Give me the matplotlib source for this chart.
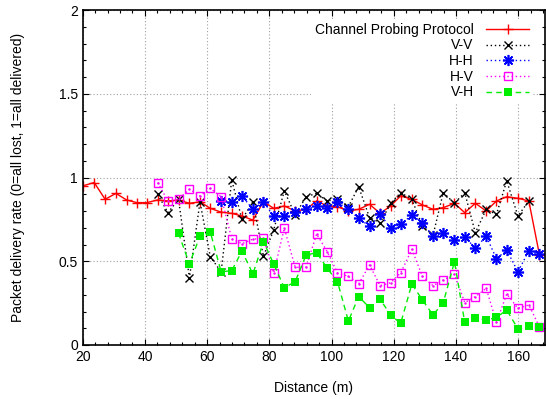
import numpy as np
import matplotlib
matplotlib.use('Agg')
import matplotlib.pyplot as plt
from matplotlib.ticker import MultipleLocator, FuncFormatter

plt.rcParams['font.family'] = ['Liberation Sans', 'DejaVu Sans']
plt.rcParams['font.size'] = 10

# distances (m) at which the samples were taken
distance = [20.0, 23.7, 27.2, 30.7, 34.1, 37.4, 40.6, 44.1, 47.4, 50.8,
            54.3, 57.7, 61.0, 64.5, 67.9, 71.2, 74.7, 78.1, 81.4, 84.8,
            88.3, 91.8, 95.2, 98.6, 101.9, 105.4, 108.7, 112.2, 115.6, 119.0,
            122.2, 125.8, 129.2, 132.6, 135.9, 139.5, 142.8, 146.2, 149.7, 153.0,
            156.3, 159.9, 163.4, 166.8]

cpp = [0.95, 0.97, 0.87, 0.905, 0.866, 0.85, 0.85, 0.866, 0.86, 0.866,
       0.846, 0.855, 0.816, 0.793, 0.786, 0.77, 0.746, 0.855, 0.816, 0.83,
       0.80, 0.81, 0.86, 0.83, 0.826, 0.80, 0.81, 0.84, 0.786, 0.83,
       0.89, 0.87, 0.836, 0.81, 0.82, 0.846, 0.79, 0.846, 0.80, 0.86,
       0.885, 0.876, 0.86, 0.54]

# V-V: 44.1 .. 163.4
vv = [0.90, 0.79, 0.87, 0.40, 0.855, 0.527, 0.437, 0.985, 0.75, 0.855,
      0.53, 0.687, 0.92, 0.776, 0.885, 0.905, 0.86, 0.87, 0.826, 0.945,
      0.76, 0.73, 0.845, 0.91, 0.87, 0.71, 0.655, 0.91, 0.846, 0.91,
      0.67, 0.81, 0.78, 0.98, 0.77, 0.86]

# H-H: 64.5 .. 166.8
hh = [0.86, 0.855, 0.89, 0.81, 0.855, 0.77, 0.77, 0.796, 0.81, 0.83,
      0.82, 0.852, 0.81, 0.756, 0.71, 0.78, 0.697, 0.72, 0.776, 0.73,
      0.65, 0.667, 0.627, 0.647, 0.577, 0.65, 0.515, 0.567, 0.437, 0.563,
      0.543]

# H-V: 44.1 .. 166.8
hv = [0.97, 0.86, 0.87, 0.93, 0.89, 0.935, 0.885, 0.633, 0.605, 0.632,
      0.637, 0.43, 0.697, 0.464, 0.464, 0.663, 0.557, 0.43, 0.41, 0.364,
      0.478, 0.354, 0.372, 0.43, 0.571, 0.41, 0.354, 0.388, 0.422, 0.253,
      0.289, 0.338, 0.135, 0.305, 0.219, 0.239, 0.109]

# V-H: 50.8 .. 166.8
vh = [0.667, 0.484, 0.65, 0.676, 0.437, 0.444, 0.561, 0.424, 0.617, 0.484,
      0.342, 0.378, 0.537, 0.551, 0.458, 0.378, 0.143, 0.289, 0.223, 0.273,
      0.179, 0.129, 0.364, 0.269, 0.179, 0.253, 0.497, 0.135, 0.163, 0.149,
      0.165, 0.209, 0.096, 0.115, 0.109]

x_ticks = [20, 40, 60, 80, 100, 120, 140, 160]
y_ticks = [0, 0.5, 1, 1.5, 2]

fig = plt.figure(figsize=(5.46, 3.99), dpi=100)
ax = fig.add_axes([82.7 / 546, 1 - 345 / 399, (545 - 82.7) / 546, 335 / 399])

dot = (0, (1, 2))
ax.plot(distance, cpp, color='#ff0000', lw=1.0, marker='+', ms=7, mew=1.0,
        label='Channel Probing Protocol')
ax.plot(distance[7:43], vv, color='black', lw=1.0, ls=dot, marker='x', ms=6,
        mew=1.0, label='V-V')
ax.plot(distance[13:], hh, color='#0000ff', lw=1.0, ls=dot, marker=(8, 2, 0),
        ms=8, mew=1.2, label='H-H')
ax.plot(distance[7:], hv, color='#ff00ff', lw=1.0, ls=dot, marker='s', ms=6,
        mfc='none', mew=1.0, label='H-V')
ax.plot(distance[7:], hv, color='#ff00ff', lw=0, marker='.', ms=1.5)
ax.plot(distance[9:], vh, color='#00ee00', lw=1.0, ls=(0, (4, 3)), marker='s',
        ms=6, mew=0, label='V-H')

ax.set_xlim(20, 168.6)
ax.set_ylim(0, 2)
ax.set_xticks(x_ticks)
ax.set_yticks(y_ticks)
ax.yaxis.set_major_formatter(FuncFormatter(lambda v, p: f'{v:g}'))
ax.xaxis.set_minor_locator(MultipleLocator(4))
ax.yaxis.set_minor_locator(MultipleLocator(0.1))
ax.tick_params(which='both', direction='in', top=True, right=True, labelsize=10)
ax.tick_params(which='major', length=4, width=0.8)
ax.tick_params(which='minor', length=2, width=0.8)
ax.grid(True, which='major', color='#a0a0a0', ls=dot, lw=0.8)
for s in ax.spines.values():
    s.set_linewidth(1.2)

ax.set_xlabel('Distance (m)', labelpad=12)
ax.set_ylabel('Packet delivery rate (0=all lost, 1=all delivered)', labelpad=24)

leg = ax.legend(loc='upper right', bbox_to_anchor=(0.99, 0.995), markerfirst=False,
                frameon=True, fancybox=False, edgecolor='none', facecolor='white',
                framealpha=1.0, handlelength=3.1, handletextpad=0.9,
                labelspacing=0.12, borderpad=0.3, fontsize=10)
leg.get_frame().set_linewidth(0)

fig.savefig('out.png', dpi=100)
